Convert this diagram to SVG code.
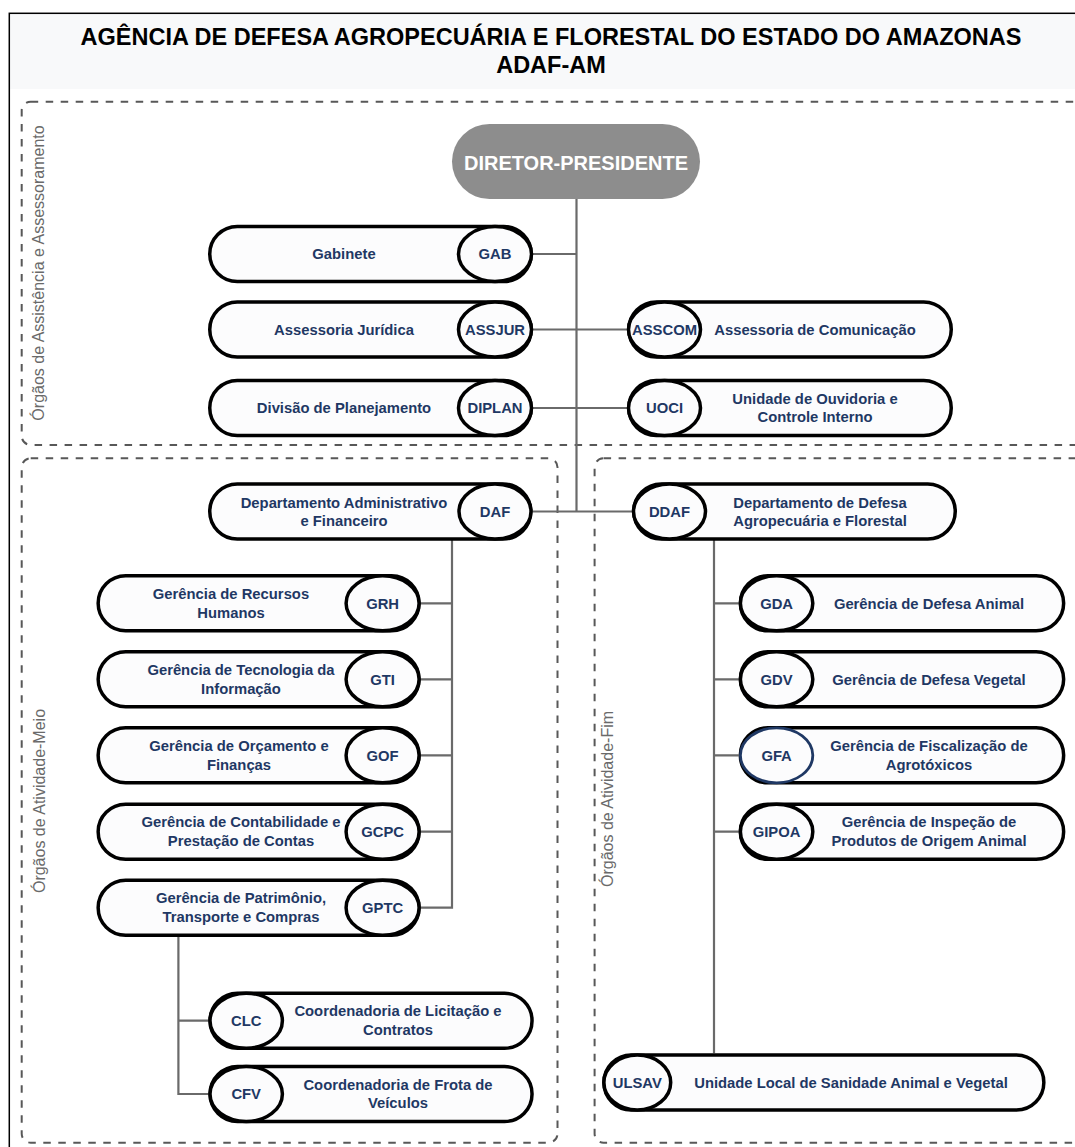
<svg xmlns="http://www.w3.org/2000/svg" width="1075" height="1147" viewBox="0 0 1075 1147">
<style>
.bg{fill:#ffffff}
.frame{fill:none;stroke:#000;stroke-width:1.5}
.region{fill:none;stroke:#585858;stroke-width:2;stroke-dasharray:7.5 7.5}
.side{font-family:"Liberation Sans",Arial,sans-serif;font-size:16px;fill:#6a6a6a;text-anchor:middle}
.title{font-family:"Liberation Sans",Arial,sans-serif;font-size:23.5px;font-weight:bold;fill:#000;text-anchor:middle}
.pill{fill:#fcfcfd;stroke:#000;stroke-width:3.5}
.dir{fill:#8d8d8d}
.dirt{font-family:"Liberation Sans",Arial,sans-serif;font-size:20px;font-weight:bold;fill:#fff;text-anchor:middle}
.t{font-family:"Liberation Sans",Arial,sans-serif;font-size:14.8px;font-weight:bold;fill:#1f3864;text-anchor:middle}
.conn{fill:none;stroke:#6a6a6a;stroke-width:2.2}
</style>
<rect class="bg" x="0" y="0" width="1075" height="1147"/>
<rect x="10" y="14" width="1070" height="75" fill="#f8f9fa"/>
<rect class="frame" x="9.3" y="13.3" width="1080" height="1150"/>
<text class="title" x="551" y="45">AGÊNCIA DE DEFESA AGROPECUÁRIA E FLORESTAL DO ESTADO DO AMAZONAS</text>
<text class="title" x="551" y="72.7">ADAF-AM</text>

<g id="regions">
<rect class="region" x="21.7" y="101.7" width="1062" height="343.3" rx="9"/>
<rect class="region" x="21.7" y="458.3" width="535.8" height="684.4" rx="9"/>
<rect class="region" x="594.6" y="458.3" width="490" height="684.4" rx="9"/>
<text class="side" transform="translate(44,273) rotate(-90)">Órgãos de Assistência e Assessoramento</text>
<text class="side" transform="translate(45,801) rotate(-90)">Órgãos de Atividade-Meio</text>
<text class="side" transform="translate(612.5,799) rotate(-90)">Órgãos de Atividade-Fim</text>
</g>

<g id="connectors">
<path class="conn" d="M576.5 199V511.5"/>
<path class="conn" d="M533 254H576.5"/>
<path class="conn" d="M533 329.5H627"/>
<path class="conn" d="M533 408H627"/>
<path class="conn" d="M532.5 511.5H632"/>
<path class="conn" d="M452 540V907.7H420.8"/>
<path class="conn" d="M420.8 603.3H452M420.8 679.3H452M420.8 755.3H452M420.8 831.7H452"/>
<path class="conn" d="M178.4 936.7V1094H208.3M178.4 1020.7H208.3"/>
<path class="conn" d="M714 540V1053.3"/>
<path class="conn" d="M714 603.3H738.6M714 679.3H738.6M714 755.3H738.6M714 831.7H738.6"/>
</g>

<g id="diretor">
<rect class="dir" x="452" y="124" width="248" height="75" rx="37.5"/>
<text class="dirt" x="576" y="170">DIRETOR-PRESIDENTE</text>
</g>

<g id="gab">
<rect class="pill" x="209.75" y="226.5" width="321.5" height="55" rx="27.5"/>
<ellipse class="pill" cx="495" cy="254" rx="36.5" ry="27.5"/>
<text class="t" x="344" y="259.3">Gabinete</text>
<text class="t" x="495" y="259.3">GAB</text>
</g>
<g id="assjur">
<rect class="pill" x="209.75" y="302" width="321.5" height="55" rx="27.5"/>
<ellipse class="pill" cx="495" cy="329.5" rx="36.5" ry="27.5"/>
<text class="t" x="344" y="334.8">Assessoria Jurídica</text>
<text class="t" x="495" y="334.8">ASSJUR</text>
</g>
<g id="diplan">
<rect class="pill" x="209.75" y="380.5" width="321.5" height="55" rx="27.5"/>
<ellipse class="pill" cx="495" cy="408" rx="36.5" ry="27.5"/>
<text class="t" x="344" y="413.3">Divisão de Planejamento</text>
<text class="t" x="495" y="413.3">DIPLAN</text>
</g>
<g id="asscom">
<rect class="pill" x="628.75" y="302" width="322.5" height="55" rx="27.5"/>
<ellipse class="pill" cx="664.5" cy="329.5" rx="36" ry="27.5"/>
<text class="t" x="815" y="334.8">Assessoria de Comunicação</text>
<text class="t" x="664.5" y="334.8">ASSCOM</text>
</g>
<g id="uoci">
<rect class="pill" x="628.75" y="380.5" width="322.5" height="55" rx="27.5"/>
<ellipse class="pill" cx="664.5" cy="408" rx="36" ry="27.5"/>
<text class="t" x="815" y="403.5">Unidade de Ouvidoria e</text>
<text class="t" x="815" y="422">Controle Interno</text>
<text class="t" x="664.5" y="413.3">UOCI</text>
</g>
<g id="daf">
<rect class="pill" x="209.75" y="484" width="321" height="55" rx="27.5"/>
<ellipse class="pill" cx="495" cy="511.5" rx="36" ry="27.5"/>
<text class="t" x="344" y="507.5">Departamento Administrativo</text>
<text class="t" x="344" y="526">e Financeiro</text>
<text class="t" x="495" y="516.8">DAF</text>
</g>
<g id="ddaf">
<rect class="pill" x="633.75" y="484" width="321.5" height="55" rx="27.5"/>
<ellipse class="pill" cx="669.5" cy="511.5" rx="36" ry="27.5"/>
<text class="t" x="820" y="507.5">Departamento de Defesa</text>
<text class="t" x="820" y="526">Agropecuária e Florestal</text>
<text class="t" x="669.5" y="516.8">DDAF</text>
</g>

<g id="grh">
<rect class="pill" x="98.15" y="575.8" width="320.9" height="55" rx="27.5"/>
<ellipse class="pill" cx="382.6" cy="603.3" rx="36.5" ry="27.5"/>
<text class="t" x="231" y="599">Gerência de Recursos</text>
<text class="t" x="231" y="617.5">Humanos</text>
<text class="t" x="382.6" y="608.6">GRH</text>
</g>
<g id="gti">
<rect class="pill" x="98.15" y="651.8" width="320.9" height="55" rx="27.5"/>
<ellipse class="pill" cx="382.6" cy="679.3" rx="36.5" ry="27.5"/>
<text class="t" x="241" y="675">Gerência de Tecnologia da</text>
<text class="t" x="241" y="693.5">Informação</text>
<text class="t" x="382.6" y="684.6">GTI</text>
</g>
<g id="gof">
<rect class="pill" x="98.15" y="727.8" width="320.9" height="55" rx="27.5"/>
<ellipse class="pill" cx="382.6" cy="755.3" rx="36.5" ry="27.5"/>
<text class="t" x="239" y="751">Gerência de Orçamento e</text>
<text class="t" x="239" y="769.5">Finanças</text>
<text class="t" x="382.6" y="760.6">GOF</text>
</g>
<g id="gcpc">
<rect class="pill" x="98.15" y="804.2" width="320.9" height="55" rx="27.5"/>
<ellipse class="pill" cx="382.6" cy="831.7" rx="36.5" ry="27.5"/>
<text class="t" x="241" y="827.4">Gerência de Contabilidade e</text>
<text class="t" x="241" y="845.9">Prestação de Contas</text>
<text class="t" x="382.6" y="837">GCPC</text>
</g>
<g id="gptc">
<rect class="pill" x="98.15" y="880.2" width="320.9" height="55" rx="27.5"/>
<ellipse class="pill" cx="382.6" cy="907.7" rx="36.5" ry="27.5"/>
<text class="t" x="241" y="903.4">Gerência de Patrimônio,</text>
<text class="t" x="241" y="921.9">Transporte e Compras</text>
<text class="t" x="382.6" y="913">GPTC</text>
</g>
<g id="clc">
<rect class="pill" x="210.05" y="993.2" width="322" height="55" rx="27.5"/>
<ellipse class="pill" cx="246.2" cy="1020.7" rx="36.2" ry="27.5"/>
<text class="t" x="398" y="1016.2">Coordenadoria de Licitação e</text>
<text class="t" x="398" y="1034.7">Contratos</text>
<text class="t" x="246.2" y="1026">CLC</text>
</g>
<g id="cfv">
<rect class="pill" x="210.05" y="1066.5" width="322" height="55" rx="27.5"/>
<ellipse class="pill" cx="246.2" cy="1094" rx="36.2" ry="27.5"/>
<text class="t" x="398" y="1089.5">Coordenadoria de Frota de</text>
<text class="t" x="398" y="1108">Veículos</text>
<text class="t" x="246.2" y="1099.3">CFV</text>
</g>

<g id="gda">
<rect class="pill" x="740.35" y="575.8" width="323.3" height="55" rx="27.5"/>
<ellipse class="pill" cx="776.6" cy="603.3" rx="36.2" ry="27.5"/>
<text class="t" x="929" y="608.6">Gerência de Defesa Animal</text>
<text class="t" x="776.6" y="608.6">GDA</text>
</g>
<g id="gdv">
<rect class="pill" x="740.35" y="651.8" width="323.3" height="55" rx="27.5"/>
<ellipse class="pill" cx="776.6" cy="679.3" rx="36.2" ry="27.5"/>
<text class="t" x="929" y="684.6">Gerência de Defesa Vegetal</text>
<text class="t" x="776.6" y="684.6">GDV</text>
</g>
<g id="gfa">
<rect class="pill" x="740.35" y="727.8" width="323.3" height="55" rx="27.5"/>
<ellipse class="pill" cx="776.6" cy="755.3" rx="36.2" ry="27.5" style="stroke:#1f3864;stroke-width:2.8"/>
<text class="t" x="929" y="751">Gerência de Fiscalização de</text>
<text class="t" x="929" y="769.5">Agrotóxicos</text>
<text class="t" x="776.6" y="760.6">GFA</text>
</g>
<g id="gipoa">
<rect class="pill" x="740.35" y="804.2" width="323.3" height="55" rx="27.5"/>
<ellipse class="pill" cx="776.6" cy="831.7" rx="36.2" ry="27.5"/>
<text class="t" x="929" y="827.4">Gerência de Inspeção de</text>
<text class="t" x="929" y="845.9">Produtos de Origem Animal</text>
<text class="t" x="776.6" y="837">GIPOA</text>
</g>
<g id="ulsav">
<rect class="pill" x="603.85" y="1055.05" width="440" height="55" rx="27.5"/>
<ellipse class="pill" cx="637.3" cy="1082.5" rx="33.4" ry="27.5"/>
<text class="t" x="851" y="1087.8">Unidade Local de Sanidade Animal e Vegetal</text>
<text class="t" x="637.3" y="1087.8">ULSAV</text>
</g>
</svg>
